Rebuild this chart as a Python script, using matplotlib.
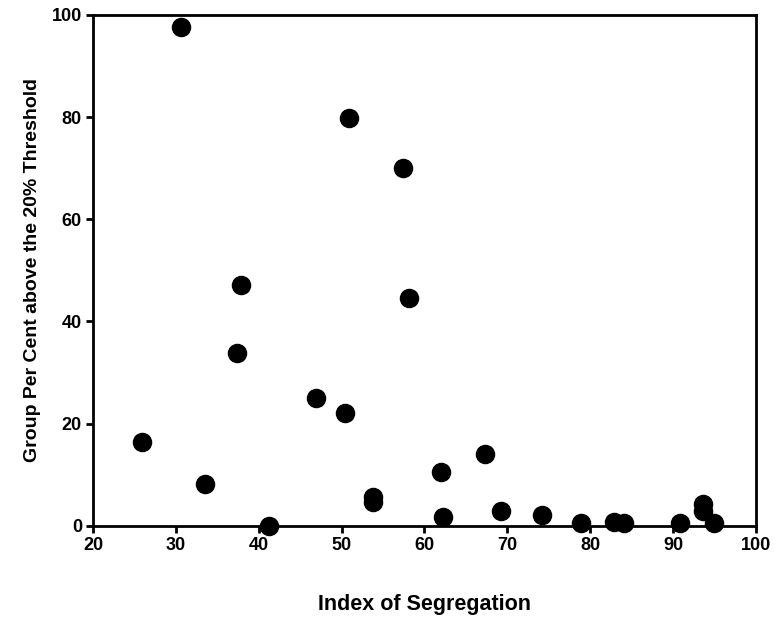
import matplotlib
matplotlib.use('Agg')
import matplotlib.pyplot as plt

# Index of segregation vs group per cent above the 20% threshold
seg_index = [30.6, 50.9, 57.4, 37.9, 58.2, 37.4, 46.9, 50.4, 25.9, 67.3,
             62.0, 33.5, 53.8, 53.8, 69.3, 74.2, 62.2, 41.3, 78.9, 82.9,
             84.1, 90.9, 93.6, 93.6, 95.0]
pct_above = [97.6, 79.8, 70.1, 47.2, 44.6, 33.9, 25.0, 22.1, 16.4, 14.1,
             10.6, 8.2, 5.6, 4.6, 2.9, 2.2, 1.8, 0.0, 0.5, 0.8,
             0.5, 0.5, 4.2, 3.0, 0.5]

plt.rcParams['font.family'] = ['Liberation Sans', 'DejaVu Sans']
plt.rcParams['font.weight'] = 'bold'

fig = plt.figure(figsize=(7.77, 6.18), dpi=100)
ax = fig.add_axes([0.1197, 0.149, 0.853, 0.827])

ax.scatter(seg_index, pct_above, s=170, color='black', zorder=3, clip_on=False)

ax.set_xlim(20, 100)
ax.set_ylim(0, 100)
ax.set_xticks(range(20, 101, 10))
ax.set_yticks(range(0, 101, 20))
ax.tick_params(direction='out', length=5, width=2, labelsize=13, pad=3)
for sp in ax.spines.values():
    sp.set_linewidth(2)

ax.set_xlabel('Index of Segregation', fontsize=15.5, fontweight='bold', labelpad=29)
ax.set_ylabel('Group Per Cent above the 20% Threshold', fontsize=14, fontweight='bold', labelpad=8)

fig.savefig('out.png', dpi=100)
